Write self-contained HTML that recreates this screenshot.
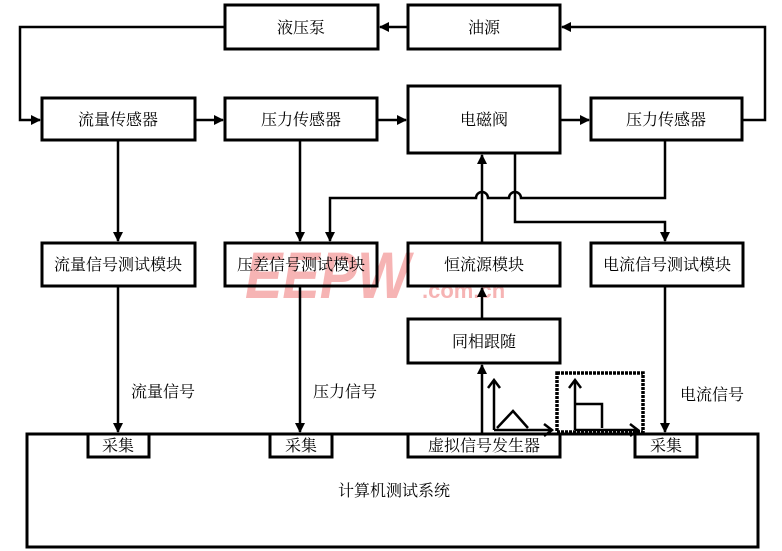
<!DOCTYPE html>
<html><head><meta charset="utf-8"><style>
body{margin:0;background:#fff;}
svg{display:block;}
text{font-family:"Liberation Serif","Noto Serif CJK SC","Noto Sans CJK SC",serif;font-size:16px;fill:#000;}
</style></head><body>
<svg width="782" height="551" viewBox="0 0 782 551">
<defs>
<marker id="a" markerWidth="10" markerHeight="10" refX="9" refY="5" orient="auto" markerUnits="userSpaceOnUse"><path d="M0,0 L10,5 L0,10 z" fill="#000"/></marker>
<marker id="o" markerWidth="14" markerHeight="14" refX="12" refY="7" orient="auto" markerUnits="userSpaceOnUse"><path d="M4,1 L12,7 L4,13" fill="none" stroke="#000" stroke-width="2.5"/></marker>
</defs>
<text x="245" y="298" style="font-family:'Liberation Sans',sans-serif;font-size:66px;font-weight:bold;fill:#f6b4b4;font-style:italic" textLength="165" lengthAdjust="spacingAndGlyphs">EEPW</text>
<text x="422" y="298" style="font-family:'Liberation Sans',sans-serif;font-size:22px;font-weight:bold;fill:#f6b4b4">.com.cn</text>
<g fill="none" stroke="#000" stroke-width="3">
<rect x="225" y="5" width="153" height="44"/>
<rect x="408" y="5" width="152" height="44"/>
<rect x="42" y="98" width="153" height="42"/>
<rect x="225" y="98" width="152" height="42"/>
<rect x="408" y="86" width="152" height="67"/>
<rect x="591" y="98" width="151" height="42"/>
<rect x="42" y="243" width="153" height="43"/>
<rect x="225" y="243" width="152" height="43"/>
<rect x="408" y="243" width="152" height="43"/>
<rect x="591" y="243" width="152" height="43"/>
<rect x="408" y="319" width="152" height="44"/>
<rect x="27" y="434" width="731" height="113"/>
<rect x="88" y="434" width="61" height="23"/>
<rect x="270" y="434" width="62" height="23"/>
<rect x="408" y="434" width="152" height="23"/>
<rect x="635" y="434" width="62" height="23"/>
</g>
<g fill="none" stroke="#000" stroke-width="2.5">
<path d="M225,27 H20 V120 H40" marker-end="url(#a)"/>
<path d="M742,120 H765 V27 H562" marker-end="url(#a)"/>
<path d="M408,27 H380" marker-end="url(#a)"/>
<path d="M195,120 H223" marker-end="url(#a)"/>
<path d="M377,120 H406" marker-end="url(#a)"/>
<path d="M560,120 H589" marker-end="url(#a)"/>
<path d="M118,140 V241" marker-end="url(#a)"/>
<path d="M300,140 V241" marker-end="url(#a)"/>
<path d="M665,140 V198 H521 a6,6 0 0 0 -12,0 H488 a6,6 0 0 0 -12,0 H330 V241" marker-end="url(#a)"/>
<path d="M515,153 V222 H665 V241" marker-end="url(#a)"/>
<path d="M482,243 V155" marker-end="url(#a)"/>
<path d="M482,319 V288" marker-end="url(#a)"/>
<path d="M482,434 V365" marker-end="url(#a)"/>
<path d="M118,286 V432" marker-end="url(#a)"/>
<path d="M300,286 V432" marker-end="url(#a)"/>
<path d="M665,286 V432" marker-end="url(#a)"/>
<path d="M494,430 V380" marker-end="url(#o)"/>
<path d="M494,430 H552" marker-end="url(#o)"/>
<path d="M497,428 L513,411 L528,428"/>
<path d="M575,430 V380" marker-end="url(#o)"/>
<path d="M575,430 H638" marker-end="url(#o)"/>
<path d="M575,404 H602 V428"/>
</g>
<rect x="557" y="373" width="86" height="59" fill="none" stroke="#000" stroke-width="3.5" stroke-dasharray="3,1"/>
<g text-anchor="middle">
<text x="301" y="33">液压泵</text>
<text x="484" y="33">油源</text>
<text x="118" y="125">流量传感器</text>
<text x="301" y="125">压力传感器</text>
<text x="484" y="125">电磁阀</text>
<text x="666" y="125">压力传感器</text>
<text x="118" y="270">流量信号测试模块</text>
<text x="301" y="270">压差信号测试模块</text>
<text x="484" y="270">恒流源模块</text>
<text x="667" y="270">电流信号测试模块</text>
<text x="484" y="347">同相跟随</text>
<text x="118" y="451">采集</text>
<text x="301" y="451">采集</text>
<text x="484" y="451">虚拟信号发生器</text>
<text x="666" y="451">采集</text>
<text x="394" y="496">计算机测试系统</text>
</g>
<text x="131" y="397">流量信号</text>
<text x="313" y="397">压力信号</text>
<text x="680" y="400">电流信号</text>
</svg>
</body></html>
